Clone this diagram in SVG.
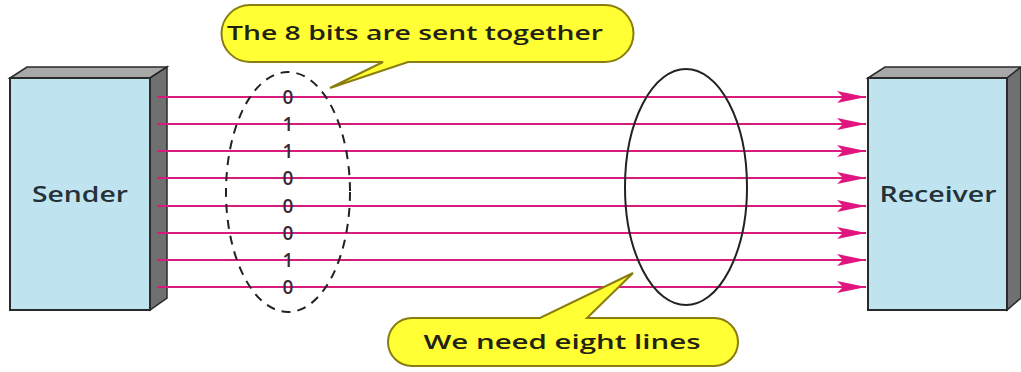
<svg xmlns="http://www.w3.org/2000/svg" width="1021" height="372" viewBox="0 0 1021 372">
<style>
.front{fill:#bfe4f0;stroke:#2a2a2a;stroke-width:2}
.top{fill:#a8a8a8;stroke:#2a2a2a;stroke-width:1.5}
.side{fill:#707070;stroke:#2a2a2a;stroke-width:1.5}
.lbl{font-family:"Open Sans","Liberation Sans",sans-serif;font-size:21px;font-weight:600;fill:#243238;text-anchor:middle}
.wire{stroke:#d81b7c;stroke-width:2;fill:none}
.bit{font-family:"Open Sans","Liberation Sans",sans-serif;font-size:19px;font-weight:600;fill:#3a2a38;text-anchor:middle}
.callout{fill:#ffff33;stroke:#8a7d10;stroke-width:2}
.ctext{font-family:"Open Sans","Liberation Sans",sans-serif;font-size:20px;font-weight:600;fill:#222214;text-anchor:middle}
</style>
<defs>
<marker id="ah" markerUnits="userSpaceOnUse" markerWidth="30" markerHeight="14" refX="29" refY="7" orient="auto">
<path d="M0,1 L29,7 L0,13 L6,7 Z" fill="#e0157f"/>
</marker>
</defs>
<g id="sender">
<polygon class="top" points="10,78 27,67 167,67 150,78"/>
<polygon class="side" points="150,78 167,67 167,298 150,310"/>
<rect class="front" x="10" y="78" width="140" height="232"/>
<text class="lbl" x="80" y="202" textLength="96" lengthAdjust="spacingAndGlyphs">Sender</text>
</g>
<g id="receiver">
<polygon class="top" points="868,78 885,67 1021,67 1007,78"/>
<polygon class="side" points="1007,78 1021,67 1021,298 1007,310"/>
<rect class="front" x="868" y="78" width="139" height="232"/>
<text class="lbl" x="938" y="202" textLength="117" lengthAdjust="spacingAndGlyphs">Receiver</text>
</g>
<g id="connectors">
<line class="wire" x1="157" y1="97" x2="866" y2="97" marker-end="url(#ah)"/>
<line class="wire" x1="157" y1="124" x2="866" y2="124" marker-end="url(#ah)"/>
<line class="wire" x1="157" y1="151" x2="866" y2="151" marker-end="url(#ah)"/>
<line class="wire" x1="157" y1="178" x2="866" y2="178" marker-end="url(#ah)"/>
<line class="wire" x1="157" y1="206" x2="866" y2="206" marker-end="url(#ah)"/>
<line class="wire" x1="157" y1="233" x2="866" y2="233" marker-end="url(#ah)"/>
<line class="wire" x1="157" y1="260" x2="866" y2="260" marker-end="url(#ah)"/>
<line class="wire" x1="157" y1="287" x2="866" y2="287" marker-end="url(#ah)"/>
</g>
<g id="bits">
<ellipse cx="288" cy="192" rx="62" ry="120" fill="none" stroke="#222" stroke-width="2" stroke-dasharray="9,7"/>
<text class="bit" x="288" y="104">0</text>
<text class="bit" x="288" y="131">1</text>
<text class="bit" x="288" y="158">1</text>
<text class="bit" x="288" y="185">0</text>
<text class="bit" x="288" y="213">0</text>
<text class="bit" x="288" y="240">0</text>
<text class="bit" x="288" y="267">1</text>
<text class="bit" x="288" y="294">0</text>
</g>
<g id="lines-ellipse">
<ellipse cx="686" cy="187" rx="61" ry="118" fill="none" stroke="#222" stroke-width="2"/>
</g>
<g id="callout-top">
<path class="callout" d="M250,5 H605 A28,28 0 0 1 605,62 H408 L330,88 L383,62 H250 A28,28 0 0 1 250,5 Z"/>
<text class="ctext" x="415" y="40" textLength="376" lengthAdjust="spacingAndGlyphs">The 8 bits are sent together</text>
</g>
<g id="callout-bottom">
<path class="callout" d="M412,318 H540 L633,273 L587,318 H714 A24,24 0 0 1 714,366 H412 A24,24 0 0 1 412,318 Z"/>
<text class="ctext" x="562" y="349" textLength="277" lengthAdjust="spacingAndGlyphs">We need eight lines</text>
</g>
</svg>
